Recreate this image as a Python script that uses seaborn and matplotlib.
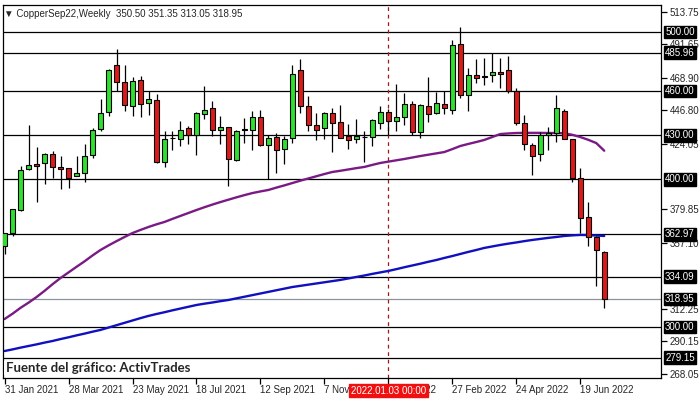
import matplotlib
matplotlib.use("Agg")
import matplotlib.pyplot as plt
import numpy as np
import pandas as pd
import seaborn as sns

# weekly candles, CopperSep22
opens = [355.0, 363.8, 379.2, 406.9, 410.7, 411.0, 417.3, 408.7, 407.8, 402.4,
         404.4, 416.4, 434.2, 445.8, 477.9, 466.1, 449.8, 467.5, 451.9, 453.9,
         411.9, 427.8, 427.5, 435.1, 429.9, 444.4, 448.5, 433.3, 435.6, 413.0,
         433.6, 433.3, 442.4, 423.2, 428.8, 420.5, 428.1, 474.2, 449.8, 436.9,
         434.9, 445.1, 439.0, 429.3, 427.5, 428.5, 428.8, 438.3, 445.8, 439.4,
         442.6, 451.4, 432.4, 450.0, 445.3, 451.4, 447.3, 492.1, 457.4, 470.9,
         469.8, 470.9, 473.2, 474.5, 460.1, 438.5, 423.6, 417.6, 430.2, 431.8,
         446.6, 427.3, 400.7, 374.8, 361.3, 350.50]
highs = [364.0, 380.3, 409.3, 437.2, 422.3, 418.2, 419.1, 416.2, 408.0, 416.2,
         424.3, 434.9, 454.8, 474.9, 488.7, 477.9, 469.5, 470.2, 459.8, 458.0,
         432.7, 432.9, 439.7, 436.5, 445.8, 463.2, 453.0, 443.1, 435.6, 433.8,
         441.9, 446.7, 447.3, 430.0, 431.8, 429.5, 477.9, 481.9, 456.6, 445.1,
         445.8, 448.7, 450.7, 437.6, 440.8, 432.9, 441.3, 449.8, 448.0, 465.0,
         458.3, 453.4, 451.4, 469.6, 459.0, 459.9, 494.4, 503.6, 475.7, 482.0,
         482.4, 485.6, 482.4, 484.0, 462.2, 443.9, 424.5, 432.0, 435.4, 457.4,
         447.5, 427.3, 408.1, 384.9, 362.0, 351.35]
lows = [349.8, 361.8, 378.7, 406.2, 384.7, 396.7, 400.8, 393.3, 394.0, 402.4,
        398.1, 414.4, 432.7, 442.8, 460.0, 446.7, 443.1, 442.4, 443.5, 411.5,
        408.2, 419.8, 422.5, 424.3, 416.4, 441.2, 429.5, 423.8, 395.6, 412.3,
        424.7, 419.8, 422.5, 400.6, 404.6, 410.7, 425.0, 445.3, 432.7, 427.0,
        427.7, 418.9, 427.8, 420.5, 424.5, 411.9, 422.7, 434.0, 430.0, 433.1,
        436.9, 430.2, 428.4, 438.7, 444.4, 444.4, 444.4, 455.0, 446.4, 465.1,
        464.0, 466.4, 461.7, 458.6, 436.9, 420.0, 403.2, 412.6, 420.0, 425.2,
        427.3, 398.6, 363.6, 355.1, 327.6, 313.05]
closes = [363.4, 379.7, 406.3, 410.1, 409.2, 417.3, 408.5, 407.1, 401.0, 404.6,
          415.9, 433.6, 445.1, 474.2, 466.1, 450.7, 466.8, 451.2, 454.6, 411.9,
          427.5, 427.8, 433.6, 429.9, 445.1, 447.3, 433.6, 435.6, 413.9, 432.9,
          433.6, 442.4, 423.2, 428.1, 419.8, 427.5, 471.5, 449.6, 436.7, 433.3,
          445.1, 438.3, 428.1, 427.0, 429.3, 428.5, 440.6, 445.8, 439.7, 442.4,
          451.4, 432.4, 450.7, 444.1, 452.0, 448.6, 491.2, 457.4, 470.9, 468.7,
          469.8, 472.7, 471.6, 460.1, 438.3, 424.1, 416.2, 430.4, 431.8, 448.2,
          427.5, 401.1, 374.2, 361.3, 351.9, 318.95]

# moving averages as drawn (purple = fast, blue = slow)
ma_fast = [305.4, 309.0, 313.0, 316.5, 320.3, 324.5, 329.0, 333.2, 337.0, 340.8,
           344.5, 348.5, 352.2, 355.3, 358.2, 361.0, 363.7, 365.8, 367.8, 369.6,
           371.2, 373.3, 375.3, 377.3, 379.3, 381.2, 383.0, 384.7, 386.3, 387.9,
           389.4, 390.8, 391.9, 392.9, 394.5, 396.0, 397.6, 399.2, 400.7, 402.2,
           403.7, 405.1, 405.9, 406.8, 407.7, 408.5, 409.9, 411.2, 412.1, 413.0,
           413.9, 414.9, 415.9, 416.8, 417.7, 418.6, 420.6, 422.7, 424.1, 425.4,
           426.8, 428.8, 430.8, 431.2, 431.5, 431.6, 431.6, 431.6, 431.5, 431.5,
           431.3, 430.3, 428.8, 426.9, 424.7, 419.5]
ma_slow = [283.7, 284.8, 286.0, 287.1, 288.2, 289.4, 290.5, 291.8, 293.0, 294.3,
           295.5, 296.8, 298.0, 299.6, 301.2, 302.8, 304.4, 306.0, 307.5, 308.8,
           310.0, 311.3, 312.5, 313.7, 314.9, 315.8, 316.6, 317.5, 318.3, 319.4,
           320.5, 321.6, 322.7, 323.8, 324.9, 326.0, 327.1, 327.9, 328.7, 329.5,
           330.3, 331.1, 331.9, 332.9, 333.9, 334.9, 336.0, 337.0, 338.0, 339.2,
           340.5, 341.7, 342.9, 344.2, 345.4, 346.8, 348.1, 349.5, 350.9, 352.2,
           353.6, 354.6, 355.6, 356.5, 357.3, 358.2, 359.0, 359.7, 360.4, 361.0,
           361.7, 362.1, 362.4, 362.3, 362.0, 361.7]

levels = [500.00, 485.96, 460.00, 430.00, 400.00, 362.97, 334.09, 300.00, 279.15]
last_price = 318.95
axis_ticks = [513.75, 491.65, 468.90, 446.80, 424.05, 379.85, 357.10, 312.25, 290.15, 268.05]
marker_week = 48
marker_label = "2022.01.03 00:00"

dates = pd.date_range("2021-01-31", periods=len(opens), freq="W-SUN")
df = pd.DataFrame({"week": np.arange(len(opens)), "open": opens, "high": highs,
                   "low": lows, "close": closes, "ma_fast": ma_fast, "ma_slow": ma_slow})

sns.set_style("white")
plt.rcParams["font.family"] = ["Liberation Sans", "DejaVu Sans"]

fig = plt.figure(figsize=(7, 4), dpi=100)
ax = fig.add_axes([3 / 700, 22 / 400, 658 / 700, 373 / 400])

GREEN = "#2ee02e"
RED = "#dc1a1a"

# horizontal levels
for lv in levels:
    ax.axhline(lv, color="black", lw=0.9, zorder=1)
ax.axhline(last_price, color="#8a949c", lw=0.9, zorder=1)

# moving averages
sns.lineplot(data=df, x="week", y="ma_fast", ax=ax, color="#7a1a84", lw=1.7, zorder=2)
sns.lineplot(data=df, x="week", y="ma_slow", ax=ax, color="#1010c0", lw=1.7, zorder=2)

# candles
ax.vlines(df["week"], df["low"], df["high"], color="black", lw=0.9, zorder=3)
body_lo = df[["open", "close"]].min(axis=1)
body_h = (df["close"] - df["open"]).abs()
cols = np.where(df["close"] > df["open"], GREEN,
                np.where(df["close"] < df["open"], RED, "black"))
ax.bar(df["week"], body_h.clip(lower=0.6), bottom=body_lo, width=0.62,
       color=cols, edgecolor="black", linewidth=0.8, zorder=4)

# vertical marker
ax.axvline(marker_week, color="#a01818", lw=0.9, ls=(0, (3, 3)), zorder=1)

ax.set_xlim(-0.2, 82.1)
ax.set_ylim(265.4, 518.3)
ax.set_xlabel("")
ax.set_ylabel("")

for s in ax.spines.values():
    s.set_visible(True)
    s.set_color("black")
    s.set_linewidth(0.9)

# x axis ticks every 8 weeks
xt = df["week"][::8]
ax.set_xticks(xt)
ax.set_xticklabels([f"{d.day} {d.strftime('%b %Y')}" for d in dates[::8]],
                   ha="left", fontsize=7)
ax.tick_params(axis="x", length=4, width=0.9, color="black", pad=1, bottom=True)

# right price axis
ax.yaxis.tick_right()
ax.set_yticks(axis_ticks)
ax.set_yticklabels([f"{v:.2f}" for v in axis_ticks], fontsize=7)
ax.tick_params(axis="y", length=4, width=0.9, color="black", pad=2, right=True, left=False)

for lv in levels + [last_price]:
    ax.annotate(f"{lv:.2f}", xy=(1.0, lv), xycoords=("axes fraction", "data"),
                xytext=(3, 0), textcoords="offset points", fontsize=7, color="white",
                va="center", ha="left", annotation_clip=False, zorder=10,
                bbox=dict(boxstyle="square,pad=0.15", fc="black", ec="black"))

ax.annotate(marker_label, xy=(marker_week, 0), xycoords=("data", "axes fraction"),
            xytext=(0, -9), textcoords="offset points", fontsize=7, color="white",
            ha="center", va="center", annotation_clip=False, zorder=10,
            bbox=dict(boxstyle="square,pad=0.2", fc="#f01010", ec="#f01010"))

ax.text(0.002, 1 - 9 / 373, "\u25bc CopperSep22,Weekly  350.50 351.35 313.05 318.95",
        transform=ax.transAxes, fontsize=7, va="center", ha="left")
ax.text(0.004, 10 / 373, "Fuente del gráfico: ActivTrades", transform=ax.transAxes,
        fontsize=9.5, fontweight="bold", family="Lato", va="center", ha="left",
        bbox=dict(fc="white", ec="none", pad=1), zorder=6)

fig.savefig("out.png", dpi=100)
